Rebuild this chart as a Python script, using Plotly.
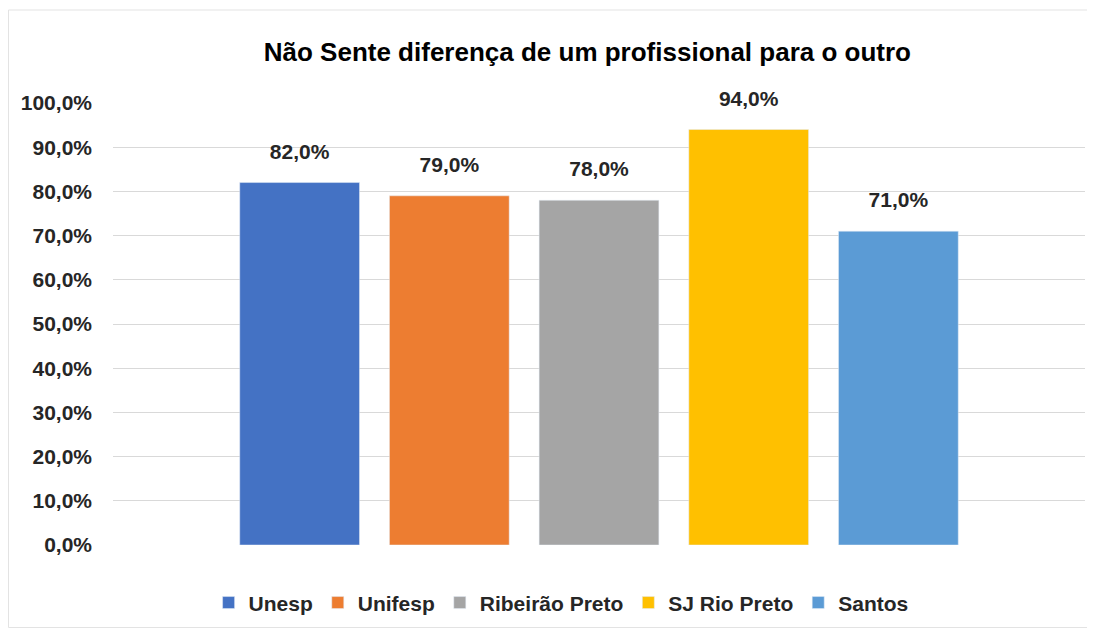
import plotly.graph_objects as go

title = "Não Sente diferença de um profissional para o outro"
series = ["Unesp", "Unifesp", "Ribeirão Preto", "SJ Rio Preto", "Santos"]
values = [0.82, 0.79, 0.78, 0.94, 0.71]
colors = ["#4472C4", "#ED7D31", "#A5A5A5", "#FFC000", "#5B9BD5"]
category = [""]
yticks = [i / 10 for i in range(11)]

FONT = "Liberation Sans, Arial, sans-serif"
TXT = "#262626"
GAP = 0.23

fig = go.Figure()
for name, v, c in zip(series, values, colors):
    fig.add_trace(go.Bar(
        x=category, y=[v], name=name, marker_color=c, offsetgroup=name,
    ))
for name, v in zip(series, values):
    fig.add_trace(go.Scatter(
        x=category, y=[v], name=name, offsetgroup=name, showlegend=False,
        mode="markers+text", marker=dict(size=28, opacity=0),
        texttemplate="%{y:.1%}", textposition="top center",
        textfont=dict(family=FONT, size=21, color=TXT, weight="bold"),
        cliponaxis=False, hoverinfo="skip",
    ))

fig.update_layout(
    width=1087, height=620,
    separators=",.",
    barmode="group", bargap=GAP, bargroupgap=0.2,
    scattermode="group", scattergap=GAP,
    plot_bgcolor="white", paper_bgcolor="white",
    margin=dict(l=105, r=10, t=95, b=83, autoexpand=False),
    title=dict(text="<b>" + title + "</b>", x=0.533, xanchor="center", y=0.929, yanchor="middle",
               font=dict(family=FONT, size=26, color="#000000")),
    font=dict(family=FONT, color=TXT),
    yaxis=dict(range=[0, 1], tickvals=yticks, tickformat=".1%", gridcolor="#D9D9D9",
               gridwidth=1, zeroline=False, showline=False, ticks="",
               tickfont=dict(family=FONT, size=21, color=TXT, weight="bold"), ticklabelstandoff=20),
    xaxis=dict(showticklabels=False, showline=False, ticks=""),
    legend=dict(orientation="h", x=0.461, xanchor="center", y=-0.131, yanchor="middle",
                font=dict(family=FONT, size=21, color=TXT, weight="bold"),
                itemwidth=30, traceorder="normal"),
    shapes=[dict(type="rect", xref="paper", yref="paper", x0=-0.1075, x1=1.0093, y0=-0.1867, y1=1.2104,
                 line=dict(color="#E3E3E3", width=1), fillcolor="rgba(0,0,0,0)", layer="below")],
)

fig.write_html("out.html")
